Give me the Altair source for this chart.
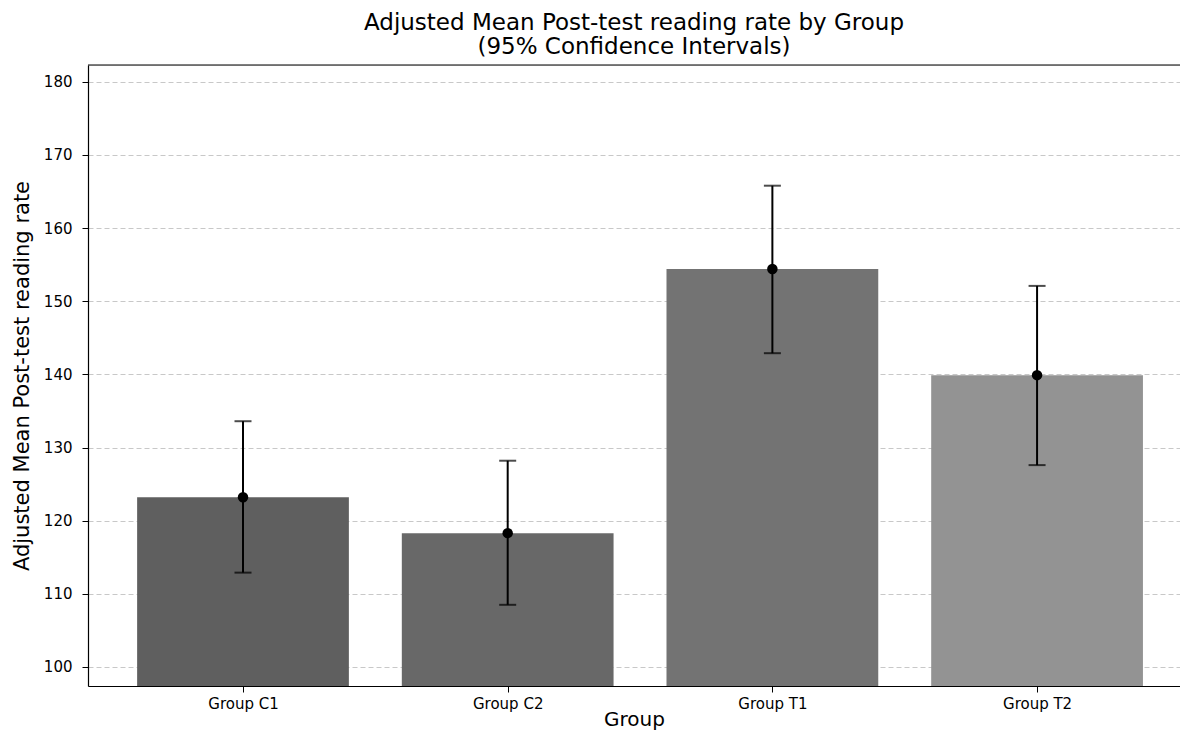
import altair as alt
import pandas as pd

groups = ["Group C1", "Group C2", "Group T1", "Group T2"]
means = [123.2, 118.3, 154.4, 139.9]
lower = [112.9, 108.5, 142.9, 127.6]
upper = [133.6, 128.2, 165.8, 152.1]
bar_colors = ["#5f5f5f", "#686868", "#737373", "#939393"]
y_ticks = [100, 110, 120, 130, 140, 150, 160, 170, 180]

df = pd.DataFrame({
    "group": groups,
    "idx": list(range(len(groups))),
    "mean": means,
    "lower": lower,
    "upper": upper,
})
df["x_lo"] = df["idx"] - 0.4
df["x_hi"] = df["idx"] + 0.4

W, H = 1092, 621
FONT = "DejaVu Sans"

label_expr = "[" + ",".join("'%s'" % g for g in groups) + "][datum.value]"

x_scale = alt.Scale(domain=[-0.5856, 3.540], nice=False, zero=False)
y_scale = alt.Scale(domain=[97.4, 182.3], nice=False, zero=False)

x_axis = alt.Axis(values=[0, 1, 2, 3], labelExpr=label_expr, title="Group",
                  grid=False, domainColor="#000", domainWidth=1.2,
                  tickColor="#000", tickSize=6, labelFontSize=15, labelColor="#000",
                  labelPadding=4, titleFontSize=20, titleFontWeight="normal",
                  titleY=39, titleBaseline="alphabetic",
                  titleColor="#000", labelFont=FONT, titleFont=FONT)
y_axis = alt.Axis(values=y_ticks, title="Adjusted Mean Post-test reading rate",
                  grid=True, gridDash=[5, 3], gridColor="#c8c8c8", gridWidth=1,
                  domainColor="#000", domainWidth=1.2, tickColor="#000", tickSize=6,
                  labelFontSize=15, labelColor="#000", labelPadding=10,
                  titleFontSize=21, titleFontWeight="normal", titleColor="#000",
                  titlePadding=11, labelFont=FONT, titleFont=FONT)

base = alt.Chart(df)

bars = base.mark_bar(clip=True).encode(
    x=alt.X("x_lo:Q", scale=x_scale, axis=x_axis),
    x2="x_hi:Q",
    y=alt.Y("mean:Q", scale=y_scale, axis=y_axis),
    y2=alt.Y2(datum=0),
    color=alt.Color("group:N", scale=alt.Scale(domain=groups, range=bar_colors), legend=None),
)

err = base.mark_rule(color="black", strokeWidth=2).encode(
    x=alt.X("idx:Q", scale=x_scale), y=alt.Y("lower:Q", scale=y_scale), y2="upper:Q"
)
cap_lo = base.mark_tick(color="black", orient="horizontal", size=17, thickness=2).encode(
    x=alt.X("idx:Q", scale=x_scale), y=alt.Y("lower:Q", scale=y_scale)
)
cap_hi = base.mark_tick(color="black", orient="horizontal", size=17, thickness=2).encode(
    x=alt.X("idx:Q", scale=x_scale), y=alt.Y("upper:Q", scale=y_scale)
)
pts = base.mark_circle(color="black", opacity=1, size=110).encode(
    x=alt.X("idx:Q", scale=x_scale), y=alt.Y("mean:Q", scale=y_scale)
)
top_border = alt.Chart(df.head(1)).mark_rule(color="#000", strokeWidth=1.2).encode(
    x=alt.value(0), x2=alt.value(W), y=alt.value(0)
)

chart = alt.layer(bars, err, cap_lo, cap_hi, pts, top_border).properties(
    width=W, height=H,
    title=alt.Title(["Adjusted Mean Post-test reading rate by Group", "(95% Confidence Intervals)"],
                    fontSize=23, font=FONT, fontWeight="normal", color="#000",
                    anchor="middle", offset=5, lineHeight=24),
    autosize=alt.AutoSizeParams(type="none"),
    padding={"left": 80, "top": 57, "right": 0, "bottom": 44},
).configure_view(stroke=None).configure(background="white")

chart.save("out.html", embed_options={"renderer": "svg", "actions": False})
